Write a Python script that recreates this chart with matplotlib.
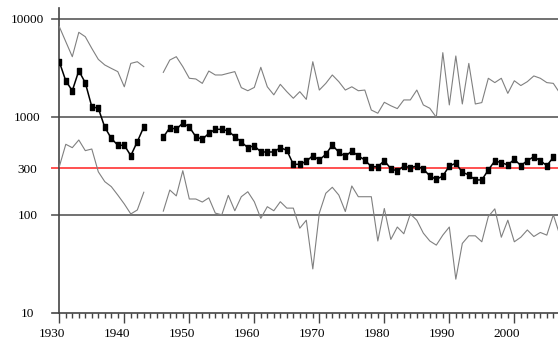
import matplotlib.pyplot as plt
import matplotlib.transforms as mtransforms
from matplotlib.path import Path
import numpy as np

years = np.arange(1930, 2008)
nan = np.nan

upper = [8350, 5860, 4120, 7310, 6590, 5010, 3870, 3390, 3130, 2900,
         2030, 3520, 3660, 3260, nan, nan, 2850, 3810, 4120, 3260,
         2480, 2440, 2200, 2940, 2680, 2680, 2790, 2900, 1990, 1850,
         2000, 3210, 2030, 1680, 2150, 1810, 1550, 1810, 1510, 3660,
         1880, 2200, 2680, 2290, 1880, 2030, 1850, 1880, 1175, 1090,
         1410, 1300, 1215, 1490, 1490, 1880, 1325, 1225, 990, 4530,
         1325, 4190, 1355, 3520, 1355, 1400, 2480, 2240, 2480, 1740,
         2340, 2090, 2290, 2620, 2480, 2240, 2200, 1750]

middle = [3660, 2330, 1850, 2960, 2230, 1270, 1225, 783, 604, 513,
          513, 402, 558, 789, nan, nan, 620, 777, 747, 867,
          789, 628, 590, 679, 747, 747, 718, 628, 555, 485,
          508, 438, 438, 438, 485, 456, 328, 328, 352, 402,
          363, 415, 516, 435, 395, 449, 399, 363, 310, 310,
          357, 296, 280, 315, 303, 315, 294, 249, 230, 249,
          315, 336, 272, 255, 227, 227, 287, 355, 341, 323,
          369, 318, 357, 392, 357, 318, 386, nan]

lower = [310, 525, 485, 581, 452, 470, 275, 218, 194, 159,
         129, 102, 112, 170, nan, nan, 109, 179, 156, 282,
         145, 145, 135, 149, 104, 100, 158, 110, 153, 172,
         136, 92, 121, 110, 136, 117, 117, 73, 88, 28,
         104, 166, 191, 159, 108, 197, 153, 153, 153, 54,
         116, 56, 75, 64, 102, 88, 65, 54, 49, 62,
         75, 22, 51, 61, 61, 53, 96, 115, 59, 88,
         53, 59, 70, 60, 66, 62, 100, 62]

ref_level = 300
ytick_vals = [10, 100, 300, 1000, 10000]

fig = plt.figure(figsize=(5.58, 3.45), dpi=100)
ax = fig.add_axes([59.3 / 558, 32.3 / 345, 1 - 59.3 / 558, 304.7 / 345])

grid_col = '#666666'
for v in [100, 1000, 10000]:
    ax.axhline(v, xmin=-0.014, xmax=1, color=grid_col, lw=1.3, clip_on=False, zorder=1)
ax.axhline(ref_level, xmin=-0.014, xmax=1, color='#ff5050', lw=1.4, clip_on=False, zorder=2)

# tall narrow box marker like the original
box = Path([(-0.33, -0.5), (0.33, -0.5), (0.33, 0.5), (-0.33, 0.5), (-0.33, -0.5)],
           [Path.MOVETO, Path.LINETO, Path.LINETO, Path.LINETO, Path.CLOSEPOLY])

ax.plot(years, upper, color='#808080', lw=0.8, zorder=3)
ax.plot(years, lower, color='#808080', lw=0.8, zorder=3)
ax.plot(years, middle, color='black', lw=1.1, marker=box, markersize=4.6, zorder=4)

ax.set_yscale('log')
ax.set_ylim(10, 12950)
ax.set_xlim(1930, 2006.72)

ax.set_yticks(ytick_vals)
ax.set_yticklabels([str(v) for v in ytick_vals])
ax.yaxis.set_minor_locator(plt.NullLocator())
ax.tick_params(axis='y', length=0, pad=23, labelsize=9.5)

ax.set_xticks(np.arange(1930, 2007, 10))
ax.set_xticks(np.arange(1930, 2007, 1), minor=True)
ax.tick_params(axis='x', which='major', length=7, width=1, color='#444444', pad=4, labelsize=9.5)
ax.tick_params(axis='x', which='minor', length=3.5, width=1, color='#444444')

shift = mtransforms.ScaledTranslation(-7.5 / 100, 0, fig.dpi_scale_trans)
for lab in ax.get_xticklabels():
    lab.set_family('Liberation Serif')
    lab.set_transform(lab.get_transform() + shift)
for lab in ax.get_yticklabels():
    lab.set_family('Liberation Serif')
    lab.set_ha('center')

for s in ['top', 'right']:
    ax.spines[s].set_visible(False)
ax.spines['left'].set_color('#444444')
ax.spines['left'].set_linewidth(1.2)
ax.spines['bottom'].set_color('#444444')
ax.spines['bottom'].set_linewidth(1.2)
ax.axhline(10, xmin=-0.014, xmax=0, color='#444444', lw=1.2, clip_on=False)

fig.savefig('out.png', dpi=100)
